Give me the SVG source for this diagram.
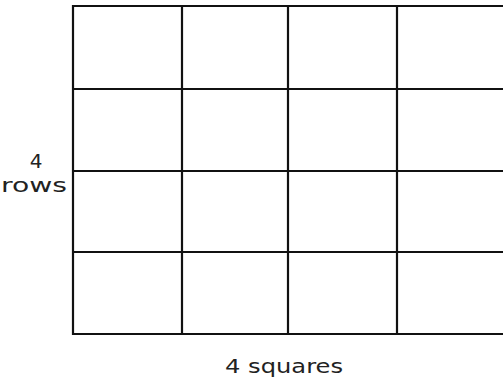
<svg xmlns="http://www.w3.org/2000/svg" width="503" height="379" viewBox="0 0 503 379">
<style>
.g{stroke:#111;stroke-width:2.2;fill:none}
.t{font-family:"DejaVu Sans","Verdana",sans-serif;font-size:20px;fill:#222}
</style>
<rect width="503" height="379" fill="#fff"/>
<g id="grid">
<line class="g" x1="73" y1="6" x2="503" y2="6"/>
<line class="g" x1="73" y1="89" x2="503" y2="89"/>
<line class="g" x1="73" y1="171" x2="503" y2="171"/>
<line class="g" x1="73" y1="252" x2="503" y2="252"/>
<line class="g" x1="73" y1="334" x2="503" y2="334"/>
<line class="g" x1="73" y1="5" x2="73" y2="335"/>
<line class="g" x1="182" y1="5" x2="182" y2="335"/>
<line class="g" x1="288" y1="5" x2="288" y2="335"/>
<line class="g" x1="397" y1="5" x2="397" y2="335"/>
</g>
<g id="labels">
<text class="t" x="36" y="168" text-anchor="middle">4</text>
<text class="t" x="1" y="192" textLength="66" lengthAdjust="spacingAndGlyphs">rows</text>
<text class="t" x="225" y="373" textLength="118" lengthAdjust="spacingAndGlyphs">4 squares</text>
</g>
</svg>
